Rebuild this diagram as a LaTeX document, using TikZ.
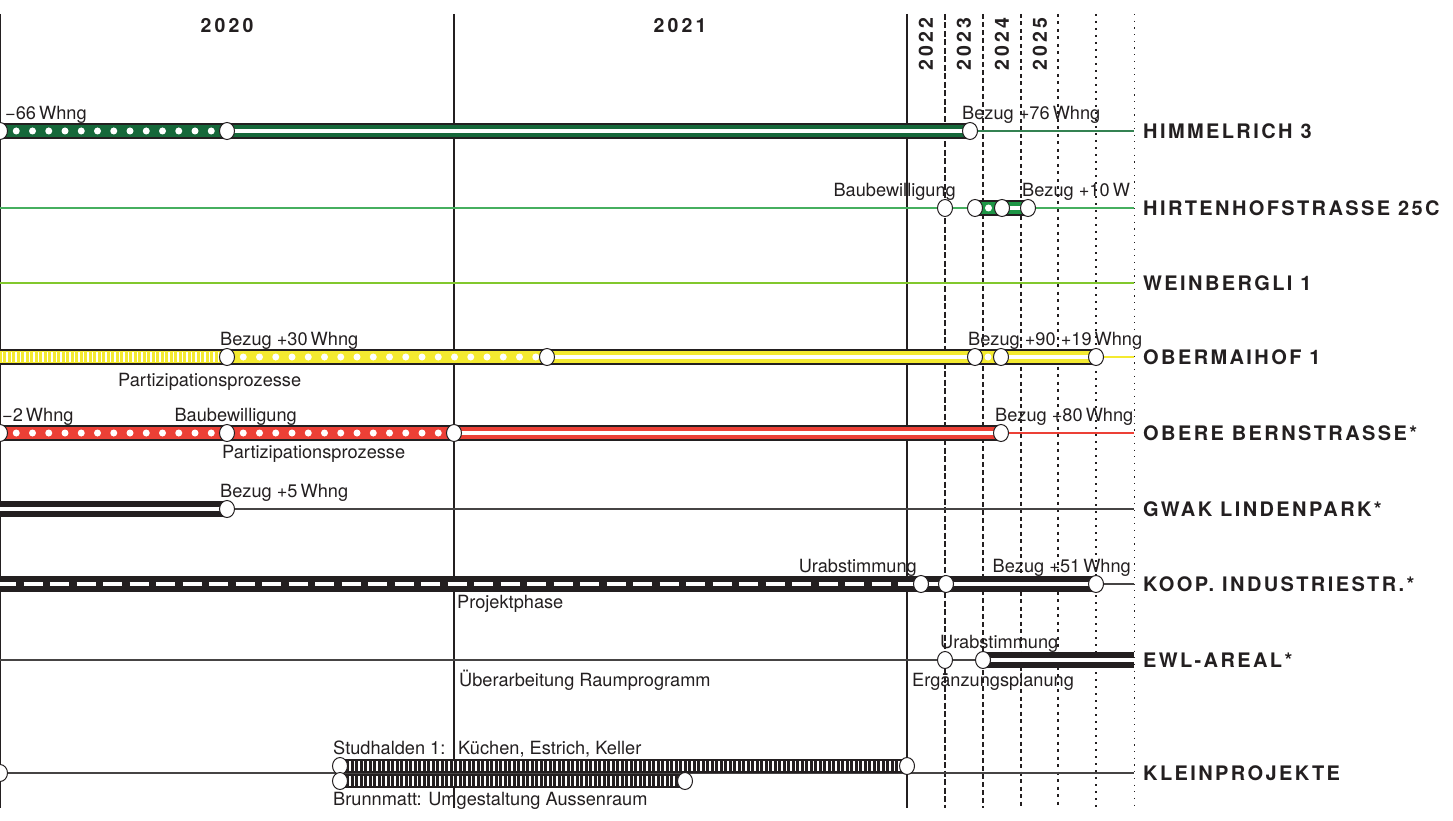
\documentclass[tikz,border=0pt]{standalone}
\usepackage{fontspec}
\setmainfont{TeX Gyre Heros}
\newfontfamily\rowfont[LetterSpace=12]{TeX Gyre Heros}
\newfontfamily\yearfont[LetterSpace=16]{TeX Gyre Heros}
\usetikzlibrary{positioning, backgrounds, shapes.geometric}
\definecolor{ink}{RGB}{35,31,32}
\definecolor{rowgrey}{RGB}{70,68,68}
\definecolor{himgreen}{RGB}{22,104,58}
\definecolor{himline}{RGB}{52,130,82}
\definecolor{hirgreen}{RGB}{30,150,70}
\definecolor{hirline}{RGB}{70,175,95}
\definecolor{weinline}{RGB}{130,200,45}
\definecolor{omayellow}{RGB}{244,234,48}
\definecolor{obered}{RGB}{236,64,54}

\begin{document}
\begin{tikzpicture}[
  x=1pt, y=-1pt,
  every node/.style={text=ink},
  lbl/.style={font=\fontsize{18.2}{18}\selectfont, inner sep=0pt},
  rowname/.style={font=\rowfont\bfseries\fontsize{20}{20}\selectfont, inner sep=0pt, anchor=base west},
  yr/.style={font=\yearfont\bfseries\fontsize{19.5}{19.5}\selectfont, inner sep=0pt},
  ms/.style={ellipse, draw=ink, fill=white, line width=1pt,
             minimum width=15pt, minimum height=17pt, inner sep=0pt},
  tube/.style={draw=ink, line width=15.5pt, postaction={draw=#1, line width=12.8pt}},
  wstripe/.style={postaction={draw=white, line width=3.4pt}},
  wdots/.style={postaction={draw=white, line width=7pt, line cap=round,
                dash pattern=on 0pt off #1}},
  wdots/.default=16.25pt,
  whatch/.style={postaction={draw=white, line width=10pt, dash pattern=on 1.5pt off 3pt}},
  wdash/.style={postaction={draw=white, line width=4.2pt, dash pattern=on 19pt off 7.5pt}},
  rowline/.style={line width=1.2pt, draw=#1},
  yline/.style={line width=1.1pt, draw=ink}
]
\useasboundingbox (0,0) rectangle (1453,821);

% year grid
\begin{scope}[on background layer]
  \draw[yline] (0.6,14) -- (0.6,808);
  \draw[yline] (454,14) -- (454,808);
  \draw[yline] (907,14) -- (907,808);
  \draw[yline, dash pattern=on 6pt off 2.5pt] (945,14) -- (945,808);
  \draw[yline, dash pattern=on 5pt off 3pt] (983,14) -- (983,808);
  \draw[yline, dash pattern=on 4pt off 3.5pt] (1021,14) -- (1021,808);
  \draw[yline, dash pattern=on 3pt off 4.5pt] (1058,14) -- (1058,808);
  \draw[yline, dash pattern=on 2pt off 5pt] (1096,14) -- (1096,808);
  \draw[yline, line width=0.9pt, dash pattern=on 1.2pt off 5.5pt] (1134,14) -- (1134,808);
\end{scope}

\node[yr] (y20) at (227,26) {2020};
\node[yr] (y21) at (680,26) {2021};
\node[yr, rotate=90] (y22) at (926,44) {2022};
\node[yr, rotate=90] (y23) at (964,44) {2023};
\node[yr, rotate=90] (y24) at (1002,44) {2024};
\node[yr, rotate=90] (y25) at (1040,44) {2025};

% rows: left end, right end, name
\coordinate (himL) at (0,131);   \coordinate (himR) at (1134,131);
\coordinate (hirL) at (0,208);   \coordinate (hirR) at (1134,208);
\coordinate (weiL) at (0,283);   \coordinate (weiR) at (1134,283);
\coordinate (omaL) at (0,357);   \coordinate (omaR) at (1134,357);
\coordinate (obeL) at (0,433);   \coordinate (obeR) at (1134,433);
\coordinate (gwaL) at (0,509);   \coordinate (gwaR) at (1134,509);
\coordinate (kooL) at (0,584);   \coordinate (kooR) at (1134,584);
\coordinate (ewlL) at (0,660);   \coordinate (ewlR) at (1134,660);
\coordinate (kleL) at (0,773);   \coordinate (kleR) at (1134,773);

\node[rowname] (nHim) at (1143,138.5) {HIMMELRICH 3};
\node[rowname] (nHir) at (1143,215.5) {HIRTENHOFSTRASSE 25C};
\node[rowname] (nWei) at (1143,290.5) {WEINBERGLI 1};
\node[rowname] (nOma) at (1143,364.5) {OBERMAIHOF 1};
\node[rowname] (nObe) at (1143,440.5) {OBERE BERNSTRASSE*};
\node[rowname] (nGwa) at (1143,516.5) {GWAK LINDENPARK*};
\node[rowname] (nKoo) at (1143,591.5) {KOOP. INDUSTRIESTR.*};
\node[rowname] (nEwl) at (1143,667.5) {EWL-AREAL*};
\node[rowname] (nKle) at (1143,780.5) {KLEINPROJEKTE};

% milestones
\node[ms] (him0) at (0,131) {};
\node[ms] (him1) at (227,131) {};
\node[ms] (him2) at (970,131) {};

\node[ms] (hir0) at (945,208) {};
\node[ms] (hir1) at (975,208) {};
\node[ms] (hir2) at (1002,208) {};
\node[ms] (hir3) at (1028,208) {};

\coordinate (oma0) at (-3,357);
\node[ms] (oma1) at (227,357) {};
\node[ms] (oma2) at (547,357) {};
\node[ms] (oma3) at (975,357) {};
\node[ms] (oma4) at (1001,357) {};
\node[ms] (oma5) at (1096,357) {};

\node[ms] (obe0) at (0,433) {};
\node[ms] (obe1) at (227,433) {};
\node[ms] (obe2) at (454,433) {};
\node[ms] (obe3) at (1001,433) {};

\coordinate (gwa0) at (-3,509);
\node[ms] (gwa1) at (227,509) {};

\coordinate (koo0) at (-3,584);
\node[ms] (koo1) at (921,584) {};
\node[ms] (koo2) at (946,584) {};
\node[ms] (koo3) at (1096,584) {};

\node[ms] (ewl0) at (945,660) {};
\node[ms] (ewl1) at (983,660) {};

\node[ms] (kle0) at (0,773) {};
\node[ms] (ks0) at (340,766) {};
\node[ms] (ks1) at (907,766) {};
\node[ms] (kb0) at (340,781) {};
\node[ms] (kb1) at (685,781) {};

% labels
\node[lbl, anchor=base west] (tHimA) at (5,119.5) {−66\,Whng};
\node[lbl, anchor=base west] (tHimB) at (962,119.5) {Bezug +76\,Whng};
\node[lbl, anchor=base east] (tHirA) at (956,196.5) {Baubewilligung};
\node[lbl, anchor=base west] (tHirB) at (1022,196.5) {Bezug +10\,W};
\node[lbl, anchor=base west] (tOmaA) at (220,345.5) {Bezug +30\,Whng};
\node[lbl, anchor=base west] (tOmaB) at (118,386) {Partizipationsprozesse};
\node[lbl, anchor=base west] (tOmaC) at (968,345.5) {Bezug +90 +19\,Whng};
\node[lbl, anchor=base west] (tObeA) at (2,421.5) {−2\,Whng};
\node[lbl, anchor=base east] (tObeB) at (297,421.5) {Baubewilligung};
\node[lbl, anchor=base west] (tObeC) at (222,458) {Partizipationsprozesse};
\node[lbl, anchor=base west] (tObeD) at (995,421.5) {Bezug +80\,Whng};
\node[lbl, anchor=base west] (tGwa) at (220,497.5) {Bezug +5\,Whng};
\node[lbl, anchor=base east] (tKooA) at (917,572.5) {Urabstimmung};
\node[lbl, anchor=base east] (tKooB) at (1131,572.5) {Bezug +51\,Whng};
\node[lbl, anchor=base west] (tKooC) at (457,608) {Projektphase};
\node[lbl, anchor=base west] (tEwlA) at (940,648.5) {Urabstimmung};
\node[lbl, anchor=base west] (tEwlB) at (912,686) {Ergänzungsplanung};
\node[lbl, anchor=base west] (tEwlC) at (459,686) {Überarbeitung Raumprogramm};
\node[lbl, anchor=base west] (tKleA) at (333,754) {Studhalden 1:};
\node[lbl, anchor=base west] (tKleB) at (458,754) {Küchen, Estrich, Keller};
\node[lbl, anchor=base west] (tKleC) at (333,805) {Brunnmatt: Umgestaltung Aussenraum};

% row lines and bars
\begin{scope}[on background layer]
  \draw[rowline=himline] (himL) -- (himR);
  \draw[rowline=hirline] (hirL) -- (hirR);
  \draw[rowline=weinline] (weiL) -- (weiR);
  \draw[rowline=omayellow] (omaL) -- (omaR);
  \draw[rowline=obered] (obeL) -- (obeR);
  \draw[rowline=rowgrey] (gwaL) -- (gwaR);
  \draw[rowline=rowgrey] (kooL) -- (kooR);
  \draw[rowline=rowgrey] (ewlL) -- (ewlR);
  \draw[rowline=rowgrey] (kleL) -- (kleR);

  \draw[tube=himgreen, wdots] (him0.center) -- (him1.center);
  \draw[tube=himgreen, wstripe] (him1.center) -- (him2.center);

  \draw[tube=hirgreen, wdots=13.5pt] (hir1.center) -- (hir2.center);
  \draw[tube=hirgreen, wstripe] (hir2.center) -- (hir3.center);

  \draw[tube=omayellow, whatch] (oma0) -- (oma1.center);
  \draw[tube=omayellow, wdots] (oma1.center) -- (oma2.center);
  \draw[tube=omayellow, wstripe] (oma2.center) -- (oma3.center);
  \draw[tube=omayellow, wdots=13pt] (oma3.center) -- (oma4.center);
  \draw[tube=omayellow, wstripe] (oma4.center) -- (oma5.center);

  \draw[tube=obered, wdots] (obe0.center) -- (obe1.center);
  \draw[tube=obered, wdots] (obe1.center) -- (obe2.center);
  \draw[tube=obered, wstripe] (obe2.center) -- (obe3.center);

  \draw[tube=ink, wstripe] (gwa0) -- (gwa1.center);

  \draw[tube=ink, wdash] (koo0) -- (koo1.center);
  \draw[tube=ink, wstripe] (koo1.center) -- (koo3.center);

  \draw[tube=ink, wstripe] (ewl1.center) -- (ewlR);

  \draw[tube=ink, line width=14pt, whatch] (ks0.center) -- (ks1.center);
  \draw[tube=ink, line width=14pt, whatch] (kb0.center) -- (kb1.center);
\end{scope}
\end{tikzpicture}
\end{document}
